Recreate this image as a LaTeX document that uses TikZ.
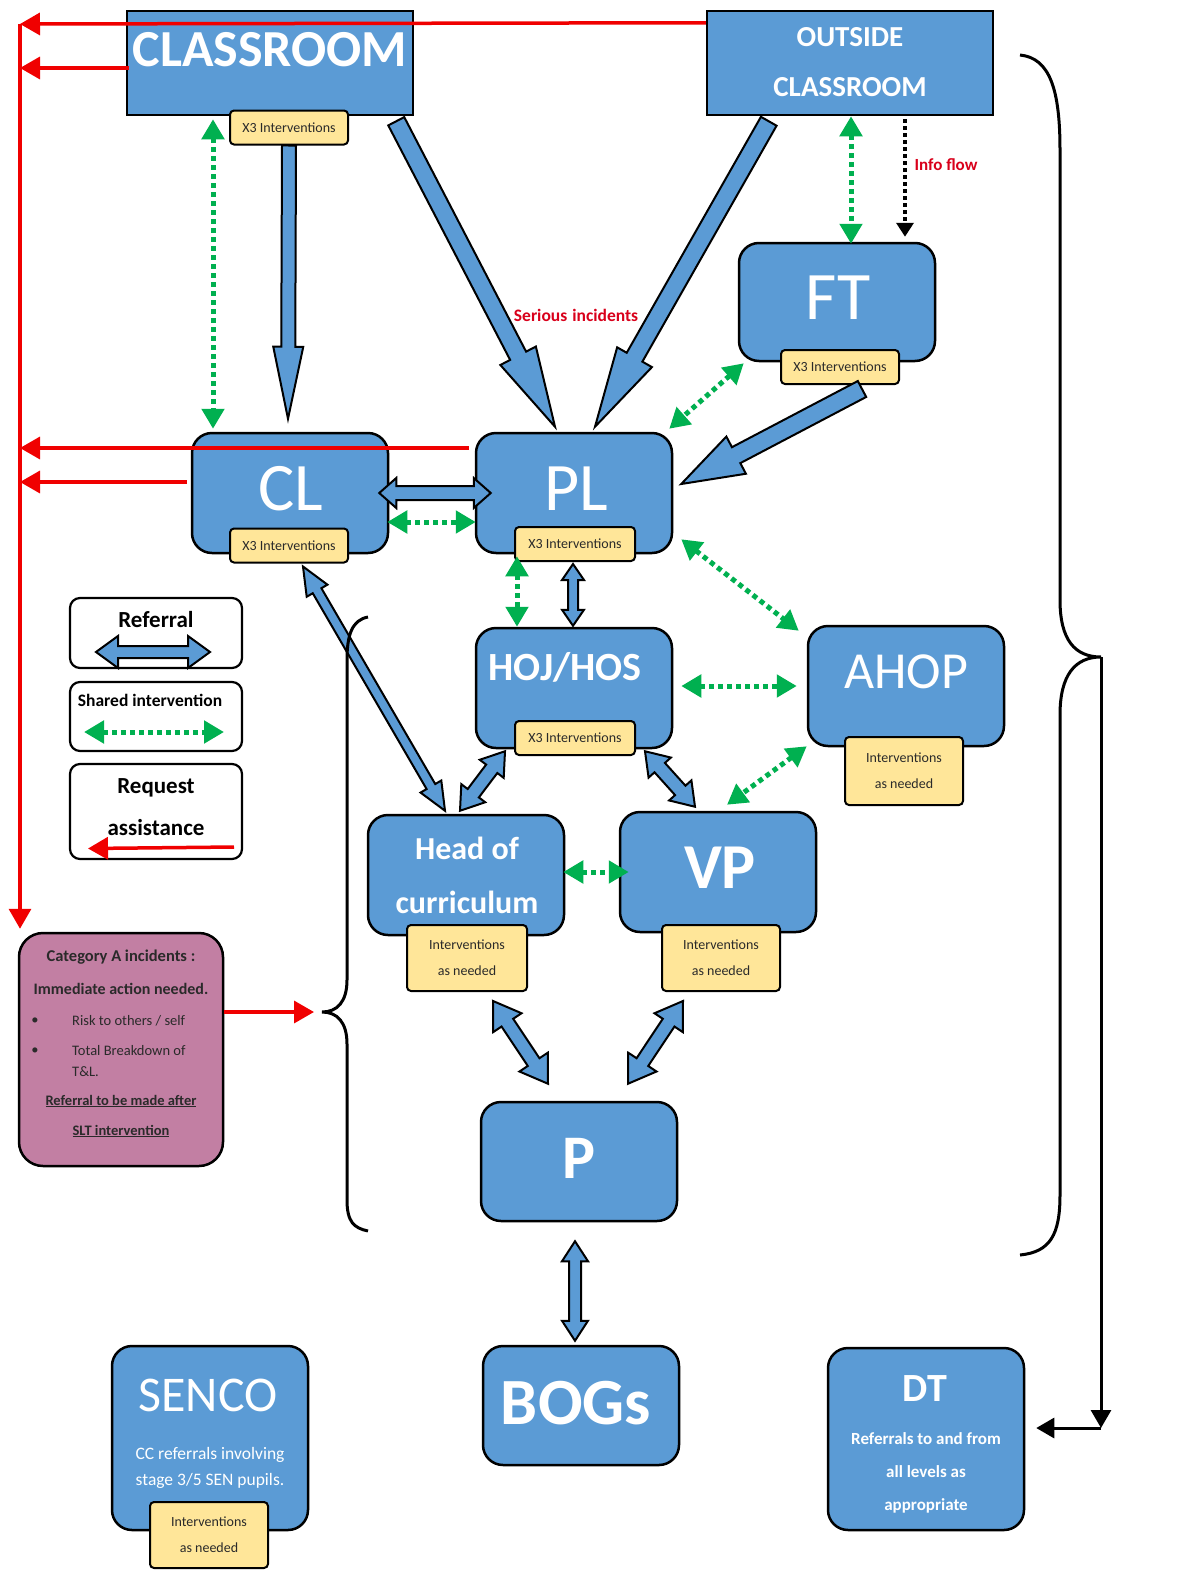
\documentclass[tikz,border=0pt]{standalone}
\usepackage{fontspec}
\setmainfont{Carlito}
\usetikzlibrary{arrows.meta,calc}
\definecolor{boxblue}{HTML}{5B9BD5}
\definecolor{tagyel}{HTML}{FFE699}
\definecolor{grn}{HTML}{00B050}
\definecolor{redl}{HTML}{F00000}
\definecolor{redt}{HTML}{D9001B}
\definecolor{mauve}{HTML}{C27FA3}
\definecolor{darktxt}{HTML}{2A2A2A}
\newcommand{\fsz}[2]{\fontsize{#1}{#2}\selectfont}
% single block arrow: start, end, half shaft, half head, head length
\newcommand{\sblock}[5]{%
  \coordinate (bH) at ($(#2)!#5!(#1)$);
  \draw[blk] ($(#1)!#3!90:(#2)$) -- ($(bH)!#3!90:(#2)$) -- ($(bH)!#4!90:(#2)$) -- (#2) -- ($(bH)!#4!-90:(#2)$) -- ($(bH)!#3!-90:(#2)$) -- ($(#1)!#3!-90:(#2)$) -- cycle;}
% double block arrow
\newcommand{\dblock}[5]{%
  \coordinate (bH) at ($(#2)!#5!(#1)$);
  \coordinate (bG) at ($(#1)!#5!(#2)$);
  \draw[blk] (#1) -- ($(bG)!#4!90:(#2)$) -- ($(bG)!#3!90:(#2)$) -- ($(bH)!#3!90:(#2)$) -- ($(bH)!#4!90:(#2)$) -- (#2) -- ($(bH)!#4!-90:(#2)$) -- ($(bH)!#3!-90:(#2)$) -- ($(bG)!#3!-90:(#2)$) -- ($(bG)!#4!-90:(#2)$) -- cycle;}
\begin{document}
\begin{tikzpicture}[x=1pt,y=-1pt,
  bbox/.style={draw=black, line width=2.5pt, fill=boxblue, rounded corners=20pt, minimum width=196pt, minimum height=120pt, inner sep=0pt},
  sbox/.style={draw=black, line width=2.5pt, fill=boxblue, minimum width=286pt, minimum height=104pt, inner sep=0pt},
  tagbox/.style={draw=black, line width=2pt, fill=tagyel, rounded corners=4pt, minimum width=118pt, minimum height=34pt, inner sep=0pt, font=\fsz{14}{26}, align=center, text=darktxt},
  wt/.style={text=white, inner sep=0pt, align=center},
  legbox/.style={draw=black, line width=2.2pt, fill=white, rounded corners=10pt, minimum width=172pt, inner sep=0pt},
  blk/.style={draw=black, line width=2pt, fill=boxblue, line join=miter},
  gdot/.style={grn, line width=5pt, dash pattern=on 5pt off 4pt, >={Triangle[length=20pt,width=22pt]}, <->},
  redarr/.style={redl, line width=3.5pt, >={Triangle[length=20pt,width=22pt]}, ->},
  bkarr/.style={black, line width=3pt, >={Triangle[length=18pt,width=20pt]}, ->},
  ctx/.style={inner sep=0pt, text=darktxt},
]
\useasboundingbox (0,0) rectangle (1195,1574);
\fill[white] (0,0) rectangle (1195,1574);

% ---------- boxes ----------
\node[sbox] (CR) at (270,63) {};
\node[sbox] (OC) at (850,63) {};
\node[bbox, minimum height=118pt] (FT) at (837,302) {};
\node[bbox] (CL) at (290,493) {};
\node[bbox] (PL) at (574,493) {};
\node[bbox] (HOJ) at (574,688) {};
\node[bbox] (AHOP) at (906,686) {};
\node[bbox] (HOC) at (466,875) {};
\node[bbox] (VP) at (718,872) {};
\node[bbox, minimum height=119pt] (P) at (579,1161.5) {};
\node[bbox, minimum height=119pt] (BOG) at (581,1405.5) {};
\node[bbox, minimum height=184pt] (SEN) at (210,1438) {};
\node[bbox, minimum height=182pt] (DT) at (926,1439) {};
\node[draw=black, line width=2.5pt, fill=mauve, rounded corners=24pt, minimum width=204pt, minimum height=233pt, inner sep=0pt] (CATA) at (121,1049.5) {};
\node[legbox, minimum height=70pt] (LREF) at (156,633) {};
\node[legbox, minimum height=69pt] (LSH) at (156,716.5) {};
\node[legbox, minimum height=95pt] (LRQ) at (156,811.5) {};

% ---------- tags ----------
\node[tagbox] (CRtag) at (289,127.5) {X3 Interventions};
\node[tagbox] (FTtag) at (840,367) {X3 Interventions};
\node[tagbox] (CLtag) at (289,545.5) {X3 Interventions};
\node[tagbox, minimum width=120pt] (PLtag) at (575,544) {X3 Interventions};
\node[tagbox, minimum width=120pt] (HOJtag) at (575,738) {X3 Interventions};
\node[tagbox, minimum height=68pt] (AHOPtag) at (904,771) {Interventions\\as needed};
\node[tagbox, minimum width=120pt, minimum height=66pt] (HOCtag) at (467,958) {Interventions\\as needed};
\node[tagbox, minimum height=66pt] (VPtag) at (721,958) {Interventions\\as needed};
\node[tagbox, minimum height=66pt] (SENtag) at (209,1535) {Interventions\\as needed};

% ---------- block arrow end points ----------
\coordinate (a1) at (CRtag.south);
\coordinate (a2) at ($(CL.north)+(-2,-13)$);
\coordinate (b1) at ($(CR.south east)+(-18,5)$);
\coordinate (b2) at ($(PL.north)+(-19,-5)$);
\coordinate (c1) at ($(OC.south west)+(63,5)$);
\coordinate (c2) at ($(PL.north)+(21,-5)$);
\coordinate (d1) at ($(FTtag.south)+(22,4)$);
\coordinate (d2) at ($(PL.east)+(8,-9)$);
\coordinate (e1) at ($(CL.east)+(-10,0)$);
\coordinate (e2) at ($(PL.west)+(16,0)$);
\coordinate (f1) at ($(PLtag.south)+(-2,2)$);
\coordinate (f2) at ($(HOJ.north)+(-1,-1)$);
\coordinate (g1) at ($(CLtag.south)+(14,3)$);
\coordinate (g2) at ($(HOC.north)+(-21,-3)$);
\coordinate (h1) at ($(HOJ.south)+(-69,2)$);
\coordinate (h2) at ($(HOC.north)+(-6,-3)$);
\coordinate (i1) at ($(HOJ.south)+(71,2)$);
\coordinate (i2) at ($(VP.north)+(-23,-4)$);
\coordinate (j1) at ($(HOCtag.south)+(26,9)$);
\coordinate (j2) at ($(P.north)+(-31,-17)$);
\coordinate (k1) at ($(VPtag.south)+(-38,9)$);
\coordinate (k2) at ($(P.north)+(49,-17)$);
\coordinate (l1) at ($(P.south)+(-4,19)$);
\coordinate (l2) at ($(BOG.north)+(-6,-4)$);
\coordinate (m1) at ($(LREF.center)+(-60,19)$);
\coordinate (m2) at ($(LREF.center)+(54,19)$);

\sblock{a1}{a2}{7pt}{15pt}{72pt}
\sblock{b1}{b2}{9pt}{20pt}{80pt}
\sblock{c1}{c2}{9pt}{20pt}{80pt}
\sblock{d1}{d2}{9pt}{21pt}{62pt}
\dblock{e1}{e2}{7pt}{15pt}{17pt}
\dblock{f1}{f2}{5pt}{11pt}{16pt}
\dblock{g1}{g2}{5pt}{12pt}{28pt}
\dblock{h1}{h2}{7pt}{15pt}{22pt}
\dblock{i1}{i2}{7pt}{15pt}{22pt}
\dblock{j1}{j2}{7pt}{17pt}{26pt}
\dblock{k1}{k2}{7pt}{17pt}{26pt}
\dblock{l1}{l2}{6pt}{13pt}{20pt}
\dblock{m1}{m2}{6pt}{16pt}{22pt}

% ---------- texts ----------
\node[wt, font=\bfseries\fsz{52}{60}] (CRt) at (270,50) {CLASSROOM};
\node[wt, font=\bfseries\fsz{29}{50}] (OCt) at (850,62) {OUTSIDE\\CLASSROOM};
\node[wt, font=\fsz{68}{80}] (FTt) at (838,298) {FT};
\node[wt, font=\fsz{68}{80}] (CLt) at (291,489) {CL};
\node[wt, font=\fsz{68}{80}] (PLt) at (576,489) {PL};
\node[wt, font=\bfseries\fsz{40}{48}] (HOJt) at (565,667) {HOJ/HOS};
\node[wt, font=\fsz{52}{60}] (AHOPt) at (906,672) {AHOP};
\node[wt, font=\bfseries\fsz{32}{54}] (HOCt) at (467,875) {Head of\\curriculum};
\node[wt, font=\bfseries\fsz{64}{70}] (VPt) at (720,868) {VP};
\node[wt, font=\bfseries\fsz{62}{70}] (Pt) at (579,1158) {P};
\node[wt, font=\bfseries\fsz{66}{70}] (BOGt) at (576,1403) {BOGs};
\node[wt, font=\fsz{50}{60}] (SENt) at (208,1395) {SENCO};
\node[wt, font=\fsz{17.5}{26}] (SENs) at (210,1468) {CC referrals involving\\stage 3/5 SEN pupils.};
\node[wt, font=\bfseries\fsz{40}{44}] (DTt) at (925,1389) {DT};
\node[wt, font=\bfseries\fsz{17}{33}] (DTs) at (926,1473) {Referrals to and from\\all levels as\\appropriate};

\node[inner sep=0pt, font=\bfseries\fsz{23}{25}] (LREFt) at (156,620) {Referral};
\node[inner sep=0pt, font=\bfseries\fsz{17.5}{20}] (LSHt) at (150,700) {Shared intervention};
\node[inner sep=0pt, font=\bfseries\fsz{23}{42}, align=center] (LRQt) at (156,807) {Request\\assistance};

\node[ctx, font=\bfseries\fsz{16.5}{18}] (CA1) at (121,957) {Category A incidents :};
\node[ctx, font=\bfseries\fsz{16}{18}] (CA2) at (121,989) {Immediate action needed.};
\node[ctx, font=\fsz{14.5}{16}] (CAb1) at (35,1021) {\textbullet};
\node[ctx, font=\fsz{14.5}{16}, anchor=west] (CA3) at (72,1021) {Risk to others / self};
\node[ctx, font=\fsz{14.5}{16}] (CAb2) at (35,1051) {\textbullet};
\node[ctx, font=\fsz{14.5}{16}, anchor=west] (CA4) at (72,1051) {Total Breakdown of};
\node[ctx, font=\fsz{14.5}{16}, anchor=west] (CA5) at (72,1072) {T\&L.};
\node[ctx, font=\bfseries\fsz{14.5}{16}] (CA6) at (121,1101) {\underline{Referral to be made after}};
\node[ctx, font=\bfseries\fsz{14.5}{16}] (CA7) at (121,1131) {\underline{SLT intervention}};

\node[inner sep=0pt, text=redt, font=\bfseries\fsz{17.5}{20}] (SERt) at (576,315) {Serious\hspace{5pt}incidents};
\node[inner sep=0pt, text=redt, font=\bfseries\fsz{17}{20}] (INFt) at (946,165) {Info flow};

% ---------- green shared-intervention arrows ----------
\draw[gdot] ($(CR.south)+(-57,3)$) -- ($(CL.north)+(-77,-3)$);
\draw[gdot] ($(OC.south)+(1,0)$) -- ($(FT.north)+(14,2)$);
\draw[gdot] ($(FT.south west)+(6,1)$) -- ($(PL.north east)+(-4,-3)$);
\draw[gdot] ($(CL.east)+(-2,29)$) -- ($(PL.west)+(1,29)$);
\draw[gdot] ($(PL.south)+(-57,2)$) -- ($(HOJ.north)+(-57,0)$);
\draw[gdot] ($(PL.south east)+(8,-15)$) -- ($(AHOP.north west)+(-8,6)$);
\draw[gdot] ($(HOJ.east)+(8,-2)$) -- ($(AHOP.west)+(-10,0)$);
\draw[gdot] ($(AHOP.south west)+(0,-1)$) -- ($(VP.north)+(9,-6)$);
\draw[gdot] ($(HOC.east)+(-2,-3)$) -- ($(VP.west)+(10,0)$);
\draw[gdot] ($(LSH.center)+(-72,15.5)$) -- ($(LSH.center)+(68,15.5)$);

% info flow
\draw[bkarr, line width=3.5pt, dash pattern=on 4pt off 3pt, >={Triangle[length=14pt,width=17pt]}] ($(OC.south)+(55,3)$) -- ($(FT.north)+(68,-5)$);

% ---------- red request-assistance lines ----------
\coordinate (rl0) at (20,24);
\coordinate (rl1) at (20,68);
\coordinate (rl2) at (20,448);
\coordinate (rl3) at (20,482);
\draw[redarr] ($(OC.north west)+(0,13)$) -- (rl0);
\draw[redarr] ($(CR.west)+(3,5)$) -- (rl1);
\draw[redarr] ($(PL.west)+(-6,-45)$) -- (rl2);
\draw[redarr] ($(CL.west)+(-4,-11)$) -- (rl3);
\draw[redarr] (rl0) -- ($(CATA.north)+(-101,-3)$);
\draw[redarr] ($(LRQ.center)+(78,35.5)$) -- ($(LRQ.center)+(-68,37)$);

% ---------- braces ----------
\coordinate (rtip) at (1101,657);
\draw[line width=3pt] (1020,55) .. controls (1050,58) and (1060,90) .. (1060,150) -- (1060,600) .. controls (1060,640) and (1075,657) .. (rtip) .. controls (1075,657) and (1060,675) .. (1060,715) -- (1060,1195) .. controls (1060,1235) and (1050,1252) .. (1020,1255);
\coordinate (rcorner) at (1101,1428);
\draw[bkarr] (rtip) -- (rcorner);
\draw[bkarr] (rcorner) -- ($(DT.east)+(11,-11)$);

\coordinate (ltip) at (322,1012);
\draw[line width=3pt] (368,617) .. controls (352,620) and (347,635) .. (347,660) -- (347,980) .. controls (347,1002) and (337,1012) .. (ltip) .. controls (337,1012) and (347,1022) .. (347,1044) -- (347,1200) .. controls (347,1222) and (354,1228) .. (368,1231);
\draw[redarr] ($(CATA.east)+(0,-37.5)$) -- ($(ltip)+(-8,0)$);
\end{tikzpicture}
\end{document}
